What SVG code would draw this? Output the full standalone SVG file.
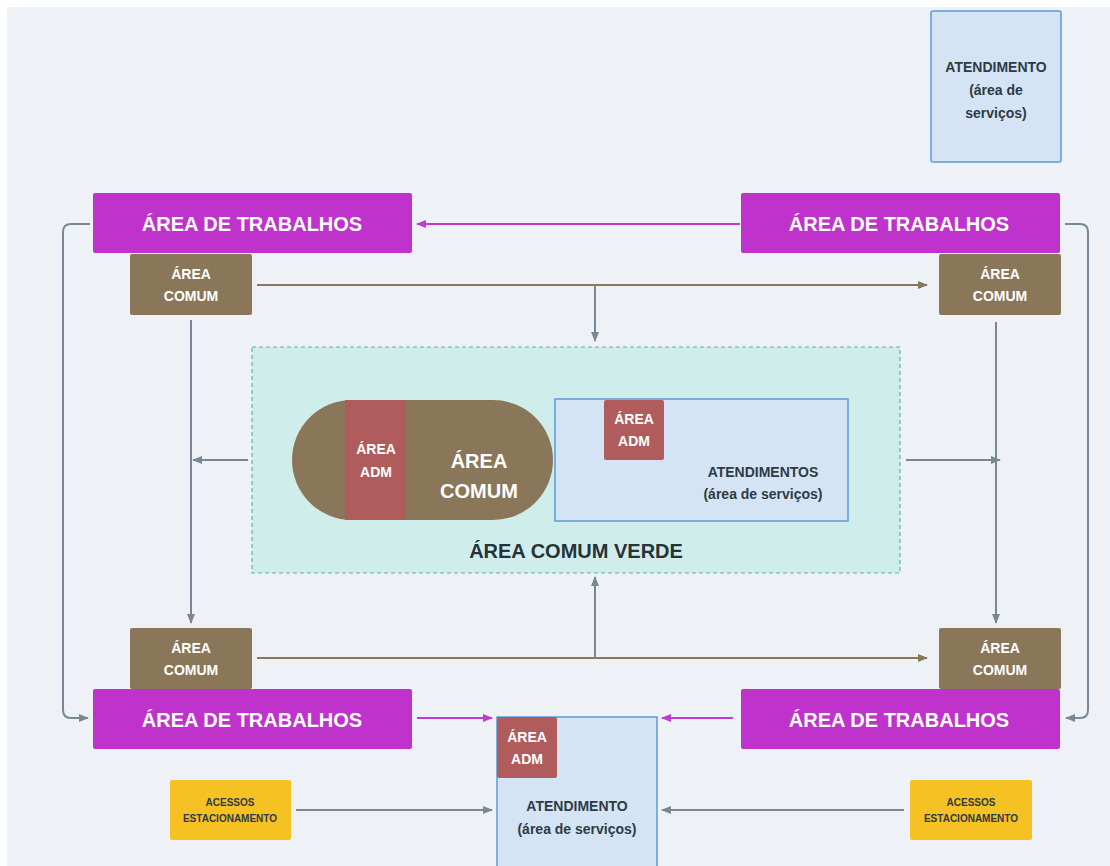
<svg xmlns="http://www.w3.org/2000/svg" width="1110" height="866" viewBox="0 0 1110 866">
<defs>
<style>
.bg{fill:#eef2f6}
.trab{fill:#bf32cc}
.comum{fill:#8a7759}
.adm{fill:#b05c5c}
.aten{fill:#d4e4f4;stroke:#5b9bd9;stroke-width:1.5}
.acc{fill:#f6c123}
.verde{fill:#cfeeeb;stroke:#5cb3a9;stroke-width:1.2;stroke-dasharray:4 3}
text{font-family:"Liberation Sans",Arial,sans-serif;font-weight:bold;text-anchor:middle}
.w{fill:#ffffff}
.d{fill:#2e3a44}
.t20{font-size:20px}
.t14{font-size:14px}
.t10{font-size:10px}
.gray{fill:none;stroke:#7a8894;stroke-width:2}
.brown{fill:none;stroke:#8a7759;stroke-width:2}
.mag{fill:none;stroke:#c23bd0;stroke-width:2}
</style>
<marker id="ag" viewBox="0 0 10 10" refX="9" refY="5" markerWidth="5" markerHeight="5" orient="auto"><path d="M0,1 L10,5 L0,9 z" fill="#7a8894"/></marker>
<marker id="ab" viewBox="0 0 10 10" refX="9" refY="5" markerWidth="5" markerHeight="5" orient="auto"><path d="M0,1 L10,5 L0,9 z" fill="#8a7759"/></marker>
<marker id="am" viewBox="0 0 10 10" refX="9" refY="5" markerWidth="5" markerHeight="5" orient="auto"><path d="M0,1 L10,5 L0,9 z" fill="#c23bd0"/></marker>
</defs>
<rect width="1110" height="866" fill="#ffffff"/>
<rect x="7" y="7" width="1103" height="859" class="bg"/>

<g id="connectors">
<path class="mag" d="M740,224 H417" marker-end="url(#am)"/>
<path class="brown" d="M257,285 H927" marker-end="url(#ab)"/>
<path class="gray" d="M595,285 V341" marker-end="url(#ag)"/>
<path class="gray" d="M90,224 H71 Q63,224 63,232 V710 Q63,718 71,718 H88" marker-end="url(#ag)"/>
<path class="gray" d="M1065,224 H1080 Q1088,224 1088,232 V710 Q1088,718 1080,718 H1066" marker-end="url(#ag)"/>
<path class="gray" d="M191,320 V623" marker-end="url(#ag)"/>
<path class="gray" d="M248,460 H193" marker-end="url(#ag)"/>
<path class="gray" d="M996,322 V623" marker-end="url(#ag)"/>
<path class="gray" d="M906,460 H1000" marker-end="url(#ag)"/>
<path class="brown" d="M257,658 H927" marker-end="url(#ab)"/>
<path class="gray" d="M595,658 V577" marker-end="url(#ag)"/>
<path class="mag" d="M417,718 H492" marker-end="url(#am)"/>
<path class="mag" d="M733,718 H662" marker-end="url(#am)"/>
<path class="gray" d="M296,810 H492" marker-end="url(#ag)"/>
<path class="gray" d="M904,810 H662" marker-end="url(#ag)"/>
</g>

<g id="atendimento-top">
<rect class="aten" x="931" y="11" width="130" height="151" rx="2"/>
<text class="d t14" x="996" y="72">ATENDIMENTO</text>
<text class="d t14" x="996" y="95">(área de</text>
<text class="d t14" x="996" y="118">serviços)</text>
</g>

<g id="trabalhos-tl">
<rect class="trab" x="93" y="193" width="319" height="60" rx="2"/>
<text class="w t20" x="252" y="231">ÁREA DE TRABALHOS</text>
</g>
<g id="trabalhos-tr">
<rect class="trab" x="741" y="193" width="319" height="60" rx="2"/>
<text class="w t20" x="899" y="231">ÁREA DE TRABALHOS</text>
</g>
<g id="trabalhos-bl">
<rect class="trab" x="93" y="689" width="319" height="60" rx="2"/>
<text class="w t20" x="252" y="727">ÁREA DE TRABALHOS</text>
</g>
<g id="trabalhos-br">
<rect class="trab" x="741" y="689" width="319" height="60" rx="2"/>
<text class="w t20" x="899" y="727">ÁREA DE TRABALHOS</text>
</g>

<g id="comum-tl">
<rect class="comum" x="130" y="254" width="122" height="61" rx="2"/>
<text class="w t14" x="191" y="279">ÁREA</text>
<text class="w t14" x="191" y="301">COMUM</text>
</g>
<g id="comum-tr">
<rect class="comum" x="939" y="254" width="122" height="61" rx="2"/>
<text class="w t14" x="1000" y="279">ÁREA</text>
<text class="w t14" x="1000" y="301">COMUM</text>
</g>
<g id="comum-bl">
<rect class="comum" x="130" y="628" width="122" height="61" rx="2"/>
<text class="w t14" x="191" y="653">ÁREA</text>
<text class="w t14" x="191" y="675">COMUM</text>
</g>
<g id="comum-br">
<rect class="comum" x="939" y="628" width="122" height="61" rx="2"/>
<text class="w t14" x="1000" y="653">ÁREA</text>
<text class="w t14" x="1000" y="675">COMUM</text>
</g>

<g id="area-comum-verde">
<rect class="verde" x="252" y="347" width="648" height="226"/>
<text class="t20" x="576" y="558" fill="#263238">ÁREA COMUM VERDE</text>
</g>

<g id="pill-comum">
<rect class="comum" x="292" y="400" width="261" height="120" rx="60"/>
<rect class="adm" x="345" y="400" width="61" height="120"/>
<text class="w t14" x="376" y="454">ÁREA</text>
<text class="w t14" x="376" y="477">ADM</text>
<text class="w t20" x="479" y="468">ÁREA</text>
<text class="w t20" x="479" y="498">COMUM</text>
</g>

<g id="atendimentos-center">
<rect class="aten" x="555" y="399" width="293" height="122"/>
<rect class="adm" x="604" y="400" width="60" height="60" rx="2"/>
<text class="w t14" x="634" y="424">ÁREA</text>
<text class="w t14" x="634" y="446">ADM</text>
<text class="d t14" x="763" y="477">ATENDIMENTOS</text>
<text class="d t14" x="763" y="499">(área de serviços)</text>
</g>

<g id="atendimento-bottom">
<rect class="aten" x="497" y="717" width="160" height="160"/>
<rect class="adm" x="497" y="717" width="60" height="61" rx="2"/>
<text class="w t14" x="527" y="742">ÁREA</text>
<text class="w t14" x="527" y="764">ADM</text>
<text class="d t14" x="577" y="811">ATENDIMENTO</text>
<text class="d t14" x="577" y="834">(área de serviços)</text>
</g>

<g id="acessos-left">
<rect class="acc" x="170" y="780" width="121" height="60" rx="2"/>
<text class="d t10" x="230" y="806">ACESSOS</text>
<text class="d t10" x="230" y="822">ESTACIONAMENTO</text>
</g>
<g id="acessos-right">
<rect class="acc" x="910" y="780" width="122" height="60" rx="2"/>
<text class="d t10" x="971" y="806">ACESSOS</text>
<text class="d t10" x="971" y="822">ESTACIONAMENTO</text>
</g>
</svg>
